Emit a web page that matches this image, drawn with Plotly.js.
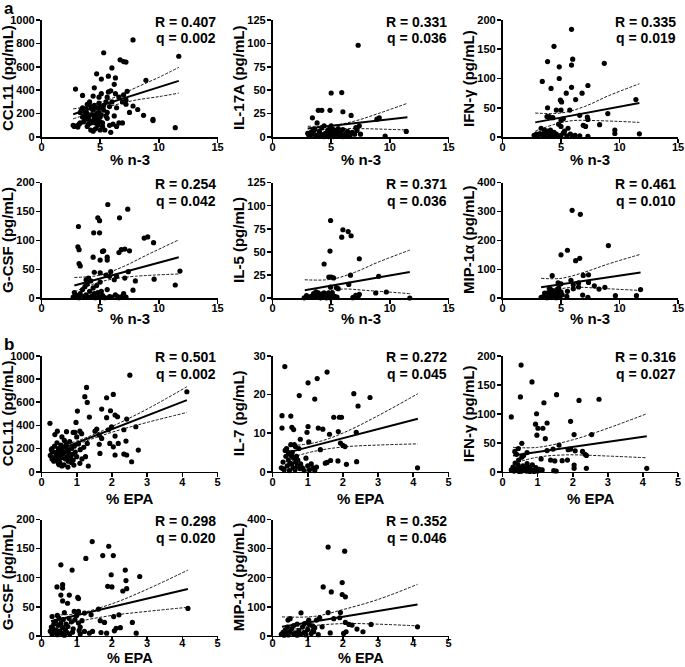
<!DOCTYPE html>
<html><head><meta charset="utf-8">
<script src="https://cdn.plot.ly/plotly-3.0.1.min.js"></script>
<style>html,body{margin:0;padding:0;background:#fff}#chart{width:685px;height:667px}</style>
</head><body><div id="chart"></div>
<script>
// ---------- DATA ----------
// Panel a: % n-3 on x
const ccl11_n3 = [[7.8,830],[11.7,690],[5.3,720],[6.7,660],[7.0,645],[7.2,640],[6.0,590],[4.7,540],[5.1,495],[5.7,520],[6.3,505],[8.9,485],[2.9,410],[4.5,420],[3.5,355],[5.7,385],[5.9,395],[6.2,450],[7.3,390],[7.0,360],[4.9,340],[7.2,315],[7.8,265],[8.2,235],[8.7,185],[9.5,150],[9.5,140],[11.4,80],[5.9,40],[6.6,120],[6.9,120],[7.5,210],[7.2,280],[6.6,340],[6.9,300],[6.4,250],[6.0,300],[5.5,300],[5.3,270],[5.0,250],[5.8,100],[6.1,110],[5.6,160],[5.0,170],[2.7,100],[2.8,90],[3.0,95],[3.1,85],[3.3,120],[3.4,230],[3.5,250],[3.6,180],[3.7,150],[3.8,210],[3.9,200],[4.0,170],[4.1,140],[4.2,260],[4.3,190],[4.4,230],[4.5,160],[4.6,120],[4.7,200],[4.8,100],[3.2,110],[3.6,130],[3.8,240],[4.0,110],[4.2,60],[4.4,50],[4.6,70],[4.8,150],[5.0,130],[5.2,90],[5.4,60],[3.9,280],[4.1,300],[4.3,240],[4.5,270],[4.7,250],[4.9,210],[5.1,190],[5.3,230],[5.5,180],[3.5,170],[3.7,220],[4.4,130],[4.6,180],[5.0,60],[5.6,210],[5.8,260],[6.2,180],[6.4,90],[4.2,120],[3.9,90],[3.3,210],[5.2,120],[6.3,370],[5.6,340],[4.9,290],[4.4,350],[5.1,370]];
const ccl11_n3_fit = [[2.7,195],[11.7,480]];
const ccl11_n3_hi = [[2.7,240],[4,265],[5,295],[6.5,350],[8,420],[10,510],[11.7,595]];
const ccl11_n3_lo = [[2.7,155],[4,200],[5,240],[6.5,280],[8,315],[10,345],[11.7,375]];

const il17a_n3 = [[7.3,98],[5.0,47],[5.9,47.5],[6.0,27],[3.9,28.5],[4.2,28.5],[4.9,28.5],[3.4,20.5],[6.7,23],[8.9,19],[9.1,20.5],[11.4,6],[9.6,1],[3.0,4],[3.1,2],[3.2,1],[3.3,5],[3.5,3],[3.6,8],[3.7,2],[3.8,15],[3.9,1],[4.0,6],[4.1,3],[4.2,10],[4.3,2],[4.4,12],[4.5,4],[4.6,1],[4.7,7],[4.8,3],[4.9,10],[5.0,5],[5.1,2],[5.2,8],[5.3,1],[5.4,4],[5.5,6],[5.6,9],[5.7,2],[5.8,5],[5.9,3],[6.0,8],[6.2,1],[6.3,4],[6.4,6],[6.5,3],[6.6,1],[6.8,5],[7.0,3],[7.1,10],[7.2,7],[7.4,12],[7.5,3],[3.4,6],[4.0,1],[4.4,0.5],[5.0,12],[5.2,0.5],[4.8,0.5],[6.0,0.5]];
const il17a_n3_fit = [[3.0,9],[11.5,21]];
const il17a_n3_hi = [[3.0,11.5],[5,12],[7,17],[9,25],[11.5,36]];
const il17a_n3_lo = [[3.0,6],[5,8.5],[7,9],[9,8.5],[11.5,7.5]];

const ifng_n3 = [[5.9,184],[4.4,155],[3.85,129],[6.0,133],[5.9,123],[8.7,126],[4.85,120],[3.4,95],[4.85,100],[4.15,83],[5.9,85],[6.8,75],[5.45,75],[7.3,88],[6.25,64],[4.95,63],[5.05,60],[11.4,64],[3.85,50],[9.0,40],[4.6,46],[5.0,46],[5.75,46],[6.6,37],[7.25,34],[7.3,30],[8.3,21],[6.9,20],[7.1,18],[4.8,22],[5.0,29],[5.2,31],[9.6,12],[9.6,6],[11.7,5.5],[2.7,3],[2.9,5],[3.0,2],[3.2,6],[3.4,4],[3.5,1],[3.6,8],[3.7,3],[3.8,10],[3.9,2],[4.0,6],[4.1,12],[4.2,1],[4.3,4],[4.4,8],[4.5,2],[4.6,5],[4.8,1],[5.0,3],[5.2,7],[5.5,2],[5.8,5],[6.0,1],[6.2,3],[6.6,2],[7.3,1],[3.3,15],[3.6,12],[4.0,35],[3.8,35],[4.3,33],[5.0,18],[5.3,10],[5.6,15]];
const ifng_n3_fit = [[2.8,25],[11.7,58]];
const ifng_n3_hi = [[2.8,41],[5,41],[7,52],[9,70],[11.7,91]];
const ifng_n3_lo = [[2.8,10],[4.5,22],[6,28],[8,28],[11.7,25]];

const gcsf_n3 = [[5.65,162],[7.35,154],[6.65,139],[4.8,139],[4.95,134],[3.15,124],[4.45,113],[4.95,113],[8.75,104],[9.05,106],[9.55,96],[3.1,89],[3.2,84],[3.2,60],[4.4,71],[5.2,81],[5.3,82],[5.0,66],[5.6,71],[5.6,66],[6.6,79],[6.8,84],[7.1,85],[7.5,82],[8.0,30],[9.6,33],[11.4,23],[11.8,47],[7.4,46],[5.0,44],[5.9,46],[6.4,38],[7.1,35],[6.2,32],[7.8,14],[3.3,56],[2.7,2],[2.8,10],[3.0,5],[3.2,1],[3.3,8],[3.5,15],[3.6,3],[3.7,20],[3.8,6],[3.9,25],[4.0,2],[4.1,12],[4.2,30],[4.3,4],[4.4,18],[4.5,8],[4.6,1],[4.7,22],[4.8,10],[4.9,3],[5.0,28],[5.2,5],[5.4,1],[5.6,15],[5.8,3],[6.0,2],[6.3,6],[6.6,1],[6.9,4],[7.2,2],[7.0,8],[4.0,35],[3.8,32],[5.5,40],[5.8,38],[4.5,45],[6.5,3],[5.1,12]];
const gcsf_n3_fit = [[2.8,22],[11.7,71]];
const gcsf_n3_hi = [[2.8,36],[5,40],[7,55],[9,75],[11.7,101]];
const gcsf_n3_lo = [[2.8,11],[4.5,25],[6,33],[8,38],[11.7,42]];

const il5_n3 = [[4.95,84],[6.0,74],[6.45,72],[6.7,67.5],[5.9,66],[4.9,51],[4.4,37],[7.4,42.7],[4.8,23],[5.0,23],[5.2,22],[6.65,25],[9.05,23.7],[6.5,15],[5.45,11.5],[5.6,10.4],[4.95,12],[8.8,5.7],[9.7,6.8],[11.7,0.3],[7.4,4.3],[7.1,3.2],[6.85,0.7],[5.5,1.4],[2.7,0.5],[2.9,3],[3.1,1],[3.3,2],[3.5,5],[3.6,1],[3.8,4],[3.9,6],[4.0,2],[4.1,0.5],[4.2,3],[4.3,5],[4.4,1],[4.5,2],[4.6,0.5],[4.7,4],[4.8,2],[4.9,0.5],[5.0,3],[5.1,6],[5.3,2],[3.7,7],[4.0,4],[4.4,6],[4.8,6],[6.9,1],[7.3,2]];
const il5_n3_fit = [[2.75,8.6],[11.7,28.5]];
const il5_n3_hi = [[2.75,20],[5,20.5],[7,28],[9,39],[11.7,52]];
const il5_n3_lo = [[2.75,0.7],[4.5,7],[6,10],[8,8.5],[11.7,5]];

const mip1a_n3 = [[5.95,304],[6.65,290],[5.55,166],[5.0,150],[9.05,182],[6.6,138],[6.25,130],[4.25,78],[6.9,79],[7.35,81],[5.85,62],[6.05,47],[4.75,53],[5.0,50],[4.65,30],[7.85,43],[8.25,32],[8.75,38],[7.35,55],[6.5,39],[6.85,11],[7.3,3.4],[9.65,9],[11.45,9],[11.8,30],[5.5,7],[6.5,53],[5.55,24],[6.05,33],[3.3,3],[3.5,5],[3.7,12],[3.8,2],[3.9,20],[4.0,8],[4.1,30],[4.2,15],[4.3,4],[4.4,25],[4.5,10],[4.6,2],[4.7,18],[4.8,35],[4.9,6],[5.0,22],[5.1,12],[3.6,18],[4.0,35],[4.2,28],[3.9,6]];
const mip1a_n3_fit = [[3.3,38],[11.8,89]];
const mip1a_n3_hi = [[3.3,69],[5,69],[7,90],[9,118],[11.8,152]];
const mip1a_n3_lo = [[3.3,10],[5,33],[6.5,38],[8.5,34],[11.8,27]];

// Panel b: % EPA on x
const ccl11_epa = [[2.51,833],[4.13,690],[1.28,727],[1.23,647],[1.85,638],[2.04,667],[1.3,598],[1.71,540],[1.96,526],[1.02,523],[2.09,489],[2.16,474],[1.85,466],[1.36,471],[2.42,454],[0.24,417],[0.98,425],[0.71,345],[0.9,339],[1.09,350],[1.14,328],[1.52,350],[1.57,368],[1.9,362],[1.99,388],[2.34,362],[2.68,388],[1.64,316],[2.09,307],[1.71,287],[1.94,244],[2.18,244],[2.4,264],[1.3,244],[2.04,215],[1.64,236],[1.66,158],[2.09,144],[2.34,152],[2.42,144],[2.75,187],[2.56,86],[1.33,49],[1.09,72],[0.92,57],[0.25,140],[0.28,190],[0.3,110],[0.32,170],[0.35,90],[0.37,220],[0.4,130],[0.42,160],[0.44,250],[0.46,100],[0.48,200],[0.5,140],[0.52,80],[0.54,180],[0.56,120],[0.58,300],[0.6,150],[0.62,210],[0.64,60],[0.66,170],[0.68,110],[0.7,240],[0.72,130],[0.74,190],[0.76,90],[0.78,160],[0.8,260],[0.82,120],[0.85,200],[0.88,150],[0.9,100],[0.93,220],[0.96,170],[1.0,130],[1.05,240],[1.1,190],[1.15,110],[0.38,320],[0.45,350],[0.5,60],[0.55,230],[0.65,270],[0.3,200],[0.42,100],[0.48,70],[0.58,50],[0.75,40],[0.85,80],[1.2,210],[1.0,300],[0.95,340],[1.25,130]];
const ccl11_epa_fit = [[0.24,159],[4.13,618]];
const ccl11_epa_hi = [[0.24,195],[1.1,275],[2,390],[3,540],[4.13,733]];
const ccl11_epa_lo = [[0.24,125],[1.1,245],[2,340],[3,425],[4.13,511]];

const il7_epa = [[0.35,27.2],[1.27,24.1],[1.01,23],[1.55,25.8],[0.76,19.7],[1.2,18.8],[2.31,20.2],[2.77,19.2],[2.43,17],[0.27,14.5],[0.52,14.4],[1.9,14.1],[1.96,14.1],[1.74,14.1],[0.55,11.5],[0.6,10.9],[1.01,11.7],[1.3,11.3],[1.43,11],[0.27,11.3],[0.98,10.2],[1.87,10.4],[2.38,10.2],[1.62,9.7],[0.79,8.4],[1.03,7.7],[1.93,7.4],[2.0,6.8],[2.06,6.5],[1.36,5.7],[1.5,2.2],[1.55,2.4],[1.65,2.9],[1.86,2.8],[2.1,1.9],[2.39,2.6],[4.12,1.0],[0.25,1],[0.3,2.5],[0.33,0.5],[0.36,5.5],[0.38,4],[0.4,6],[0.42,1.5],[0.45,3],[0.48,0.3],[0.5,4.5],[0.52,7],[0.54,2],[0.56,5],[0.58,1],[0.6,3.5],[0.62,7],[0.64,0.5],[0.66,2.5],[0.68,4],[0.7,1.5],[0.72,3],[0.75,6],[0.78,0.8],[0.8,2],[0.85,1],[0.9,0.3],[0.95,3.5],[1.0,1.5],[1.05,0.5],[1.1,2],[1.15,1],[1.2,0.3],[1.25,1.2],[0.3,0.8],[0.45,5],[0.55,4],[0.65,6.5],[0.5,2.2]];
const il7_epa_fit = [[0.45,5],[4.13,13.7]];
const il7_epa_hi = [[0.45,6.7],[1.2,7.5],[2,10],[3,14.5],[4.13,20.2]];
const il7_epa_lo = [[0.45,3.5],[1.2,5.3],[2,6.4],[3,6.9],[4.13,7.2]];

const ifng_epa = [[0.53,184],[0.84,155],[0.51,129],[1.54,133],[2.75,125],[2.18,123],[1.18,119],[0.25,94.5],[0.97,100],[1.94,87],[0.94,82],[1.15,75],[1.01,75],[1.27,84],[0.98,63],[2.04,64],[2.54,64],[1.22,57],[0.55,49],[1.61,46],[1.27,36.5],[1.44,39],[1.87,38],[1.94,39],[2.07,36],[2.28,35],[2.35,30],[2.39,28],[1.37,20],[1.49,18.6],[1.7,19],[1.85,20],[2.04,11.6],[2.04,5.8],[2.39,5.8],[4.11,5.8],[1.13,3],[1.46,1.7],[1.53,1.2],[0.25,3],[0.3,8],[0.33,1],[0.36,15],[0.38,5],[0.4,30],[0.42,2],[0.44,12],[0.46,20],[0.48,0.5],[0.5,7],[0.52,4],[0.55,1],[0.58,10],[0.6,28],[0.62,3],[0.65,6],[0.68,1],[0.7,14],[0.72,2],[0.75,8],[0.78,0.5],[0.8,5],[0.85,12],[0.9,2],[0.95,7],[1.0,1],[1.05,4],[0.45,40],[0.35,35],[0.7,33],[0.55,25],[1.1,22],[0.9,0.5]];
const ifng_epa_fit = [[0.3,28],[4.11,61]];
const ifng_epa_hi = [[0.3,42],[1,42],[2,55],[3,75],[4.11,100]];
const ifng_epa_lo = [[0.3,14],[1,25],[1.8,29],[3,27],[4.11,24]];

const gcsf_epa = [[1.44,162],[1.91,154],[1.26,133],[1.74,138],[2.04,138],[0.55,122],[0.87,113],[2.38,113],[1.98,105],[2.79,102],[2.4,95],[0.44,84],[0.6,88],[0.6,82],[1.88,85],[2.0,84],[2.31,77],[2.42,81],[0.55,70],[0.79,70],[0.6,60],[0.74,56],[1.03,66],[1.05,64],[4.16,47],[1.62,46],[0.93,42],[1.05,42],[1.41,36],[2.2,36],[1.22,39],[2.05,33],[2.58,23],[2.69,4.6],[2.24,14],[1.67,26],[1.79,23],[1.85,4.6],[2.07,8.6],[2.12,13],[1.69,5.7],[1.45,7.5],[1.36,4.6],[1.07,9.2],[1.1,2.9],[1.22,7.5],[0.88,6.3],[0.25,8],[0.28,15],[0.3,3],[0.32,12],[0.35,20],[0.38,5],[0.4,25],[0.42,10],[0.45,2],[0.48,18],[0.5,30],[0.52,8],[0.55,22],[0.58,4],[0.6,14],[0.62,28],[0.65,1],[0.68,10],[0.7,20],[0.72,6],[0.75,16],[0.78,30],[0.8,3],[0.85,24],[0.9,12],[0.95,28],[1.0,35],[1.05,22],[1.1,15],[1.15,26],[0.3,33],[0.45,35],[0.65,40],[0.35,10],[0.5,5]];
const gcsf_epa_fit = [[0.27,25],[4.16,80.5]];
const gcsf_epa_hi = [[0.27,36],[1,38],[2,55],[3,80],[4.16,113]];
const gcsf_epa_lo = [[0.27,12],[1,24],[2,35],[3,42],[4.16,49]];

const mip1a_epa = [[1.58,305],[2.05,291],[1.44,168],[1.98,183],[1.67,151],[1.98,142],[2.07,134],[1.58,80],[1.93,80],[0.81,79],[1.74,59],[1.91,62],[0.5,59],[0.44,54],[1.03,54],[1.25,54],[1.34,62],[2.07,46],[2.17,39],[2.26,37],[2.8,39],[2.4,23],[2.57,14],[4.12,31],[1.64,10],[2.02,8],[2.09,14],[0.93,10],[1.17,14],[1.0,46],[0.91,42],[1.14,34],[1.41,31],[0.25,5],[0.3,12],[0.33,2],[0.36,20],[0.4,8],[0.42,30],[0.45,3],[0.5,15],[0.55,25],[0.6,6],[0.65,10],[0.7,2],[0.75,18],[0.8,5],[0.85,30],[0.9,12],[0.95,3],[1.0,22],[1.05,38],[1.1,8],[1.2,28],[1.3,4],[0.7,40],[0.6,35],[1.15,18]];
const mip1a_epa_fit = [[0.27,31],[4.12,108]];
const mip1a_epa_hi = [[0.27,65],[1.2,67],[2,90],[3,125],[4.12,177]];
const mip1a_epa_lo = [[0.27,12],[1,32],[2,42],[3,40],[4.12,34]];

const yTitles = ['CCL11 (pg/mL)','IL-17A (pg/mL)','IFN-γ (pg/mL)','G-CSF (pg/mL)','IL-5 (pg/mL)','MIP-1α (pg/mL)','CCL11 (pg/mL)','IL-7 (pg/mL)','IFN-γ (pg/mL)','G-CSF (pg/mL)','MIP-1α (pg/mL)'];
const xTitles = ['% n-3','% n-3','% n-3','% n-3','% n-3','% n-3','% EPA','% EPA','% EPA','% EPA','% EPA'];
const rValues = ['0.407','0.331','0.335','0.254','0.371','0.461','0.501','0.272','0.316','0.298','0.352'];
const qValues = ['0.002','0.036','0.019','0.042','0.036','0.010','0.002','0.045','0.027','0.020','0.046'];
const yMax = [1000,125,200,200,125,400,1000,30,200,200,400];
const yStep = [200,25,50,50,25,100,200,10,50,50,100];
const xMax = [15,15,15,15,15,15,5,5,5,5,5];
const xStep = [5,5,5,5,5,5,1,1,1,1,1];

const panels = [
 [ccl11_n3,ccl11_n3_fit,ccl11_n3_hi,ccl11_n3_lo],
 [il17a_n3,il17a_n3_fit,il17a_n3_hi,il17a_n3_lo],
 [ifng_n3,ifng_n3_fit,ifng_n3_hi,ifng_n3_lo],
 [gcsf_n3,gcsf_n3_fit,gcsf_n3_hi,gcsf_n3_lo],
 [il5_n3,il5_n3_fit,il5_n3_hi,il5_n3_lo],
 [mip1a_n3,mip1a_n3_fit,mip1a_n3_hi,mip1a_n3_lo],
 [ccl11_epa,ccl11_epa_fit,ccl11_epa_hi,ccl11_epa_lo],
 [il7_epa,il7_epa_fit,il7_epa_hi,il7_epa_lo],
 [ifng_epa,ifng_epa_fit,ifng_epa_hi,ifng_epa_lo],
 [gcsf_epa,gcsf_epa_fit,gcsf_epa_hi,gcsf_epa_lo],
 [mip1a_epa,mip1a_epa_fit,mip1a_epa_hi,mip1a_epa_lo]
];

// ---------- LAYOUT GEOMETRY (pixels) ----------
const W = 685, H = 667;
const colX = [[41.5,217.5],[272.5,448.5],[502.5,678]];
const rowY = [[20,137],[182.5,298.3],[355.8,471.7],[519.5,635.8]];
const xTitleOff = [21,19.5,26,20.7];
const xTitleSize = [15,15,15,14.5];
const xLabelStandoff = [-5,-5,-5,-8];
const FONT = 'Liberation Sans, Arial, Helvetica, sans-serif';

const traces = [], annotations = [], layout = {
  width: W, height: H, margin:{l:0,r:0,t:0,b:0}, showlegend:false,
  paper_bgcolor:'#fff', plot_bgcolor:'rgba(0,0,0,0)',
  font:{family:FONT, color:'#000'}
};

function ticks(max, step){ const a=[]; for(let v=0; v<=max+1e-9; v+=step) a.push(+v.toFixed(6)); return a; }

panels.forEach((p, i) => {
  const row = i < 3 ? 0 : i < 6 ? 1 : i < 9 ? 2 : 3;
  const col = (i < 6) ? i % 3 : (i - 6) % 3;
  const n = i + 1;
  const xa = n === 1 ? 'x' : 'x' + n, ya = n === 1 ? 'y' : 'y' + n;
  const xk = n === 1 ? 'xaxis' : 'xaxis' + n, yk = n === 1 ? 'yaxis' : 'yaxis' + n;
  const [pts, fit, hi, lo] = p;
  traces.push({x:pts.map(d=>d[0]), y:pts.map(d=>d[1]), xaxis:xa, yaxis:ya, type:'scatter', mode:'markers',
    marker:{size:5.2, color:'#000'}, cliponaxis:false, hoverinfo:'skip'});
  [hi, lo].forEach(d => traces.push({x:d.map(v=>v[0]), y:d.map(v=>v[1]), xaxis:xa, yaxis:ya,
    type:'scatter', mode:'lines', line:{color:'#000', width:0.9, dash:'3px,1.5px', shape:'spline', smoothing:1}, hoverinfo:'skip'}));
  traces.push({x:fit.map(v=>v[0]), y:fit.map(v=>v[1]), xaxis:xa, yaxis:ya, type:'scatter', mode:'lines',
    line:{color:'#000', width:2}, hoverinfo:'skip'});

  const dx = colX[col], dy = rowY[row];
  const axisCommon = {showline:true, linecolor:'#000', linewidth:1.6, ticks:'outside', ticklen:4, tickwidth:1.6, tickcolor:'#000',
    showgrid:false, zeroline:false, fixedrange:true,
    tickfont:{family:FONT, size:11, color:'#000', weight:'bold'}};
  layout[xk] = Object.assign({}, axisCommon, {domain:[dx[0]/W, dx[1]/W], range:[0,xMax[i]], tickvals:ticks(xMax[i],xStep[i]), anchor:ya, ticklabelstandoff:xLabelStandoff[row]});
  layout[yk] = Object.assign({}, axisCommon, {domain:[1-dy[1]/H, 1-dy[0]/H], range:[0,yMax[i]], tickvals:ticks(yMax[i],yStep[i]), anchor:xa, ticklabelstandoff:-1});

  const tf = {family:FONT, size:14, color:'#000', weight:'bold'};
  annotations.push({xref:xa+' domain', yref:ya+' domain', x:1, y:1, xanchor:'right', yanchor:'middle', yshift:-1.5,
    text:'R = '+rValues[i], showarrow:false, font:tf});
  annotations.push({xref:xa+' domain', yref:ya+' domain', x:1, y:1, xanchor:'right', yanchor:'middle', yshift:-18,
    text:'q = '+qValues[i], showarrow:false, font:tf});
  annotations.push({xref:xa+' domain', yref:ya+' domain', x:0.5, y:0, xanchor:'center', yanchor:'middle', yshift:-xTitleOff[row]-1,
    text:xTitles[i], showarrow:false, borderpad:0, font:{family:FONT, size:xTitleSize[row], color:'#000', weight:'bold'}});
  annotations.push({xref:xa+' domain', yref:ya+' domain', x:0, y:0.5, xanchor:'center', yanchor:'middle', xshift:-34, textangle:-90,
    text:yTitles[i], showarrow:false, font:{family:FONT, size:15, color:'#000', weight:'bold'}});
});

annotations.push({xref:'paper', yref:'paper', x:2/W, y:1+3/H, xanchor:'left', yanchor:'top', text:'a', showarrow:false,
  font:{family:FONT, size:17, color:'#000', weight:'bold'}});
annotations.push({xref:'paper', yref:'paper', x:2/W, y:1-333/H, xanchor:'left', yanchor:'top', text:'b', showarrow:false,
  font:{family:FONT, size:17, color:'#000', weight:'bold'}});
layout.annotations = annotations;

Plotly.newPlot('chart', traces, layout, {staticPlot:true, displayModeBar:false});
</script>
</body></html>
